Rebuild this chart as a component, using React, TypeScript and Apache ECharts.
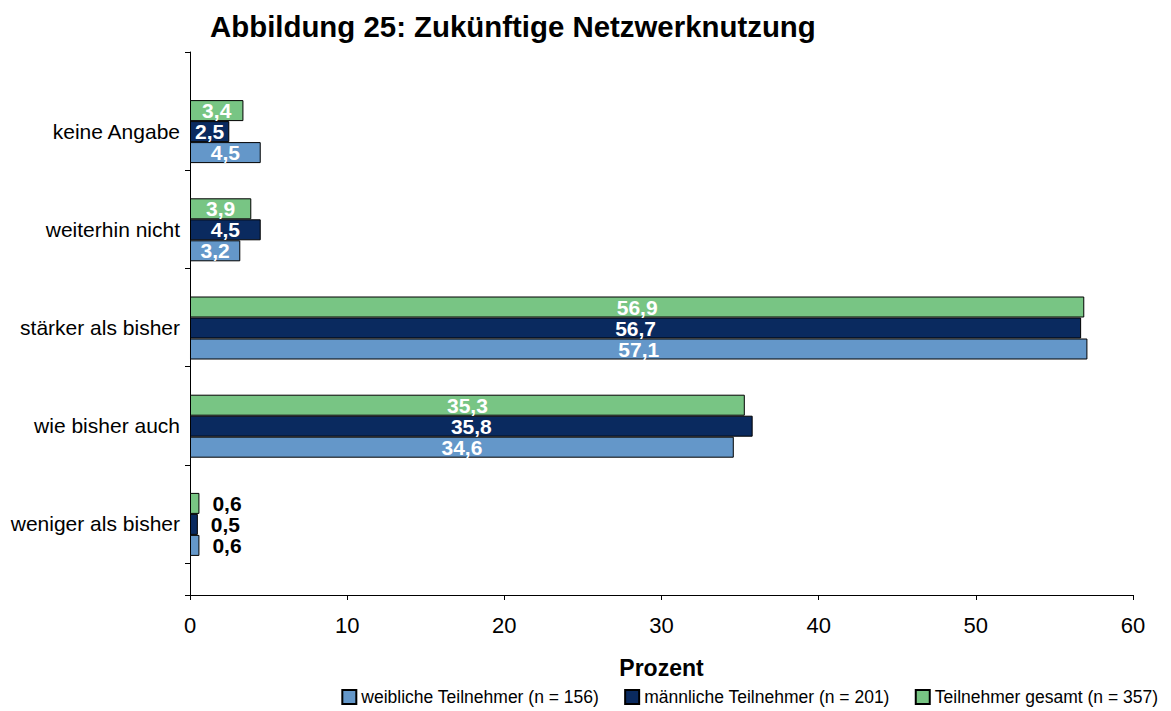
import React, { useEffect, useRef } from "react";
import * as echarts from "echarts";

// Categories listed bottom-to-top (ECharts category y axis starts at the bottom)
const categories = [
  "weniger als bisher",
  "wie bisher auch",
  "stärker als bisher",
  "weiterhin nicht",
  "keine Angabe",
];
const seriesNames = [
  "weibliche Teilnehmer (n = 156)",
  "männliche Teilnehmer (n = 201)",
  "Teilnehmer gesamt (n = 357)",
];
const weiblich = [0.6, 34.6, 57.1, 3.2, 4.5];
const maennlich = [0.5, 35.8, 56.7, 4.5, 2.5];
const gesamt = [0.6, 35.3, 56.9, 3.9, 3.4];
const xMin = 0;
const xMax = 60;
const xInterval = 10;

const colors = ["#6497C9", "#0A2A5F", "#78C584"];
const FONT = "'Liberation Sans', Arial, sans-serif";

const fmt = (v: number) => String(v).replace(".", ",");

function buildData(values: number[]) {
  return values.map((v, i) =>
    i === 0
      ? {
          value: v,
          label: {
            position: "right",
            distance: 13,
            color: "#000",
          },
        }
      : { value: v }
  );
}

export default function App() {
  const ref = useRef<HTMLDivElement>(null);
  useEffect(() => {
    document.body.style.margin = "0";
    const chart = echarts.init(ref.current!, undefined, { renderer: "svg" });
    const seriesData = [weiblich, maennlich, gesamt];
    const series: any[] = [];
    // spacer series (empty) that occupies the top slot of each group
    series.push({
      name: "spacer",
      type: "bar",
      xAxisIndex: 0,
      yAxisIndex: 0,
      barWidth: 21,
      barGap: "0%",
      data: categories.map(() => "-"),
      itemStyle: { color: "transparent" },
      silent: true,
    });
    // top-to-bottom inside a group: gesamt, männlich, weiblich
    for (let si = seriesData.length - 1; si >= 0; si--) {
      series.push({
        name: seriesNames[si],
        type: "bar",
        xAxisIndex: 0,
        yAxisIndex: 0,
        barWidth: 21,
        barGap: "0%",
        data: buildData(seriesData[si]),
        itemStyle: { color: colors[si], borderColor: "#000", borderWidth: 1 },
        label: {
          show: true,
          position: "inside",
          color: "#fff",
          fontFamily: FONT,
          fontWeight: "bold",
          fontSize: 21,
          formatter: (p: any) => fmt(p.value),
        },
      });
    }
    // frame series on second grid (no data)
    series.push({
      name: "frame",
      type: "line",
      xAxisIndex: 1,
      yAxisIndex: 1,
      data: [],
      silent: true,
    });
    // tick helper series on third grid (no data)
    series.push({
      name: "ticks",
      type: "line",
      xAxisIndex: 2,
      yAxisIndex: 2,
      data: [],
      silent: true,
    });

    chart.setOption({
      animation: false,
      title: {
        text: "Abbildung 25: Zukünftige Netzwerknutzung",
        left: 210,
        top: 12,
        padding: 0,
        textStyle: {
          fontFamily: FONT,
          fontWeight: "bold",
          fontSize: 29.4,
          color: "#000",
        },
      },
      legend: {
        data: seriesNames,
        right: 13,
        top: 688,
        padding: 0,
        itemWidth: 14,
        itemHeight: 14,
        itemGap: 25,
        icon: "rect",
        textStyle: { fontFamily: FONT, fontSize: 17.5, color: "#000" },
      },
      grid: [
        { left: 190, right: 38, top: 72, bottom: 148 },
        { left: 190, right: 38, top: 52, bottom: 116 },
        { left: 190, right: 38, top: 170.2, bottom: 148 },
      ],
      xAxis: [
        {
          type: "value",
          gridIndex: 0,
          min: xMin,
          max: xMax,
          interval: xInterval,
          show: false,
        },
        {
          type: "value",
          gridIndex: 1,
          min: xMin,
          max: xMax,
          interval: xInterval,
          axisLine: { show: true, lineStyle: { color: "#000", width: 1 } },
          axisTick: { show: true, length: 5, lineStyle: { color: "#000" } },
          splitLine: { show: false },
          axisLabel: {
            fontFamily: FONT,
            fontSize: 22,
            color: "#000",
            margin: 19,
          },
          name: "Prozent",
          nameLocation: "middle",
          nameGap: 61,
          nameTextStyle: {
            fontFamily: FONT,
            fontWeight: "bold",
            fontSize: 23,
            color: "#000",
          },
        },
        {
          type: "value",
          gridIndex: 2,
          min: xMin,
          max: xMax,
          interval: xInterval,
          show: false,
        },
      ],
      yAxis: [
        {
          type: "category",
          gridIndex: 0,
          data: categories,
          axisLine: { show: false },
          axisTick: { show: false },
          axisLabel: {
            fontFamily: FONT,
            fontSize: 21,
            color: "#000",
            margin: 10,
            lineHeight: 20,
            formatter: (v: string) => "\n" + v,
          },
          splitLine: { show: false },
        },
        {
          type: "value",
          gridIndex: 1,
          min: 0,
          max: 1,
          interval: 1,
          axisLine: { show: true, lineStyle: { color: "#000", width: 1 } },
          axisTick: { show: true, length: 5, lineStyle: { color: "#000" } },
          axisLabel: { show: false },
          splitLine: { show: false },
        },
        {
          type: "category",
          gridIndex: 2,
          data: categories.slice(0, 4),
          axisLine: { show: false },
          axisTick: { show: true, length: 5, lineStyle: { color: "#000" } },
          axisLabel: { show: false },
          splitLine: { show: false },
        },
      ],
      series,
    });
    return () => chart.dispose();
  }, []);
  return <div ref={ref} style={{ width: 1171, height: 711 }} />;
}
